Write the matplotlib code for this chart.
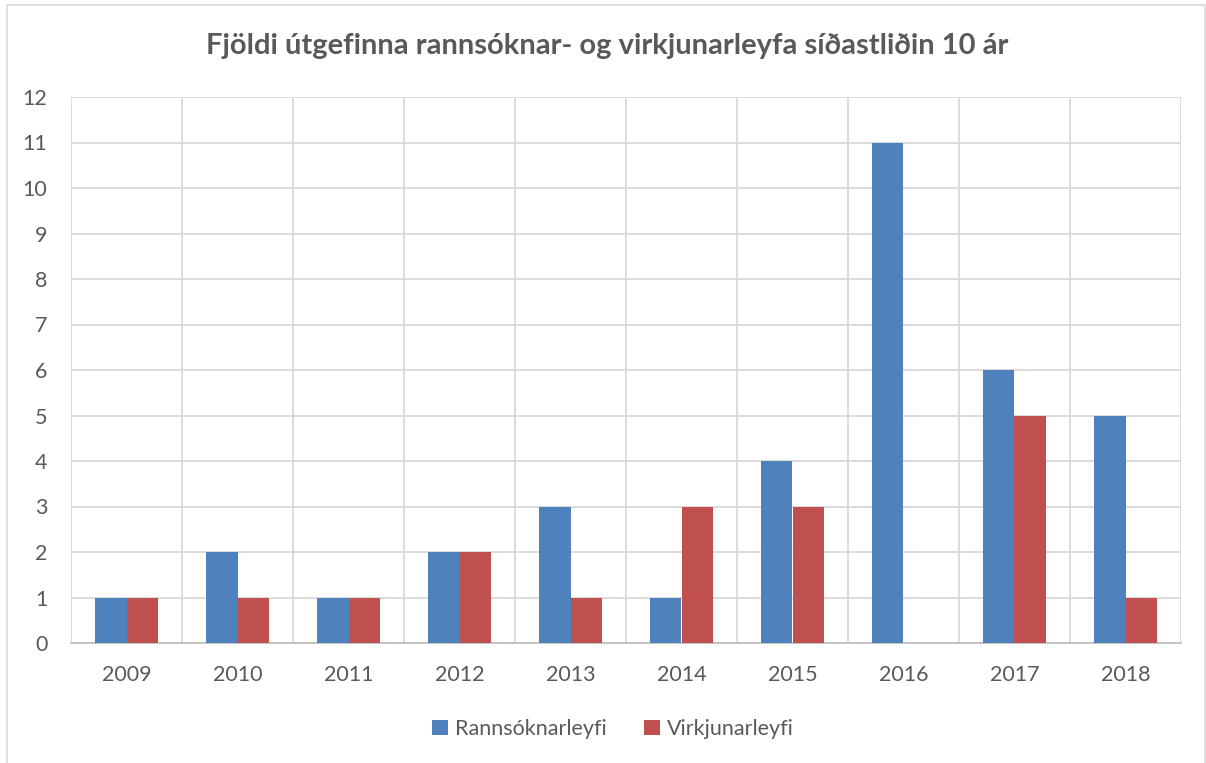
import matplotlib
matplotlib.use("Agg")
import matplotlib.pyplot as plt
import numpy as np
from matplotlib.patches import Rectangle

years = ["2009", "2010", "2011", "2012", "2013", "2014", "2015", "2016", "2017", "2018"]
rannsoknarleyfi = [1, 2, 1, 2, 3, 1, 4, 11, 6, 5]
virkjunarleyfi = [1, 1, 1, 2, 1, 3, 3, 0, 5, 1]
title = "Fjöldi útgefinna rannsóknar- og virkjunarleyfa síðastliðin 10 ár"
series_names = ["Rannsóknarleyfi", "Virkjunarleyfi"]

plt.rcParams['font.family'] = ['Lato', 'DejaVu Sans']
text_col = "#595959"
grid_col = "#D9D9D9"

W, H = 1206, 763
fig = plt.figure(figsize=(W / 100, H / 100), dpi=100)
fig.patch.set_facecolor("white")

# outer chart border
fig.add_artist(Rectangle((7 / W, -0.01), (1205 - 7) / W, (H - 5) / H + 0.01,
                         transform=fig.transFigure, fill=False,
                         edgecolor="#D9D9D9", linewidth=1.2))

left, right, top, bottom = 71, 1181, 97, 643
ax = fig.add_axes([left / W, 1 - bottom / H, (right - left) / W, (bottom - top) / H])

x = np.arange(len(years))
bw = 0.284
ax.bar(x - bw / 2, rannsoknarleyfi, bw, color="#4F81BD", label=series_names[0], zorder=3)
ax.bar(x + bw / 2, virkjunarleyfi, bw, color="#C0504D", label=series_names[1], zorder=3)

ax.set_xlim(-0.5, len(years) - 0.5)
ax.set_ylim(0, 12)
ax.set_yticks(range(0, 13))
ax.set_xticks(x)
ax.set_xticklabels(years)
ax.set_xticks(np.arange(-0.5, len(years), 1), minor=True)
ax.grid(axis="y", which="major", color=grid_col, linewidth=1.3, zorder=0)
ax.grid(axis="x", which="minor", color=grid_col, linewidth=1.3, zorder=0)
ax.grid(axis="x", which="major", visible=False)
for s in ["top", "right", "left"]:
    ax.spines[s].set_visible(False)
ax.spines["bottom"].set_color("#BFBFBF")
ax.spines["bottom"].set_linewidth(1.3)
ax.tick_params(axis="both", which="both", length=0, colors=text_col, labelsize=15.5)
ax.tick_params(axis="y", pad=17)
ax.tick_params(axis="x", pad=16)

fig.text(607 / W, 1 - 46 / H, title, ha="center", va="center",
         fontsize=21, fontweight="bold", color=text_col)

leg = fig.legend(loc="center", bbox_to_anchor=(613 / W, 1 - 729 / H), ncol=2,
                 frameon=False, fontsize=15.5, handlelength=0.75, handleheight=0.75,
                 handletextpad=0.35, columnspacing=1.7)
for t in leg.get_texts():
    t.set_color(text_col)

fig.savefig("out.png", dpi=100, facecolor="white")
